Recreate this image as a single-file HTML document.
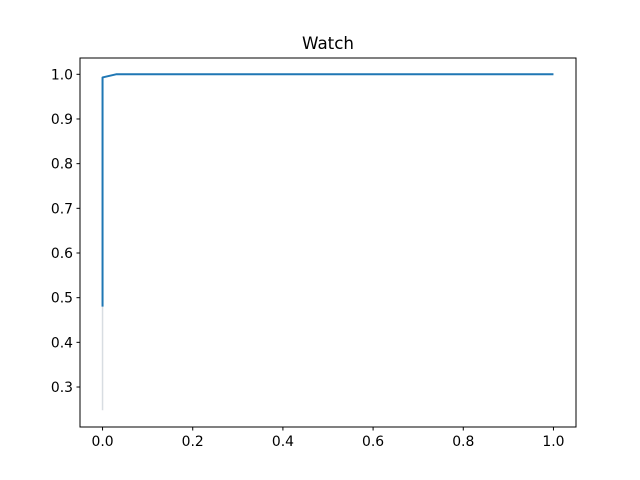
<!DOCTYPE html>
<html><head><meta charset="utf-8"><style>
body{margin:0;background:#fff;}
svg{display:block;font-family:"DejaVu Sans","Liberation Sans",sans-serif;}
</style></head><body>
<svg id="chart" width="640" height="480" viewBox="0 0 640 480">
<rect x="0" y="0" width="640" height="480" fill="#fff"/>
<text x="328" y="49" font-size="16.7" text-anchor="middle" fill="#000">Watch</text>
<g id="axes"></g>
<g id="marks"></g>
<rect x="80" y="58" width="496" height="369" fill="none" stroke="#000" stroke-width="1"/>
</svg>
<script>
const xTicks = [0.0, 0.2, 0.4, 0.6, 0.8, 1.0];
const yTicks = [0.3, 0.4, 0.5, 0.6, 0.7, 0.8, 0.9, 1.0];
const curveX = [0.0, 0.0, 0.0, 0.0, 0.03, 1.0];
const curveY = [0.248, 0.48, 0.71, 0.993, 1.0, 1.0];
const xMin = -0.05, xMax = 1.05, yMin = 0.2105, yMax = 1.0365;
const L = 80, R = 576, T = 58, B = 427;
const sx = v => L + (v - xMin) / (xMax - xMin) * (R - L);
const sy = v => B - (v - yMin) / (yMax - yMin) * (B - T);
const NS = "http://www.w3.org/2000/svg";
const axes = document.getElementById('axes');
const marks = document.getElementById('marks');
function mk(tag, attrs, parent) { const e = document.createElementNS(NS, tag); for (const k in attrs) e.setAttribute(k, attrs[k]); parent.appendChild(e); return e; }
xTicks.forEach(v => {
  const x = sx(v);
  const t = mk('line', {x1: x, x2: x, y1: B, y2: B + 3.5, stroke: '#000'}, axes);
  
  
  const l = mk('text', {x: x, y: B + 19, 'font-size': 13.9, 'text-anchor': 'middle', fill: '#000'}, axes);
  l.textContent = v.toFixed(1);
  
  
});
yTicks.forEach(v => {
  const y = sy(v);
  const t = mk('line', {x1: L - 3.5, x2: L, y1: y, y2: y, stroke: '#000'}, axes);
  
  
  const l = mk('text', {x: L - 7, y: y + 5, 'font-size': 13.9, 'text-anchor': 'end', fill: '#000'}, axes);
  l.textContent = v.toFixed(1);
  
  
});
const faint = mk('line', {x1: sx(curveX[0]), y1: sy(curveY[0]), x2: sx(curveX[1]), y2: sy(curveY[1]), stroke: '#d8dde2', 'stroke-width': 1.5}, marks);


const pts = curveX.slice(1).map((x, i) => sx(x) + ',' + sy(curveY[i + 1])).join(' ');
const line = mk('polyline', {points: pts, fill: 'none', stroke: '#1f77b4', 'stroke-width': 2, 'stroke-linejoin': 'round'}, marks);


</script>
</body></html>
